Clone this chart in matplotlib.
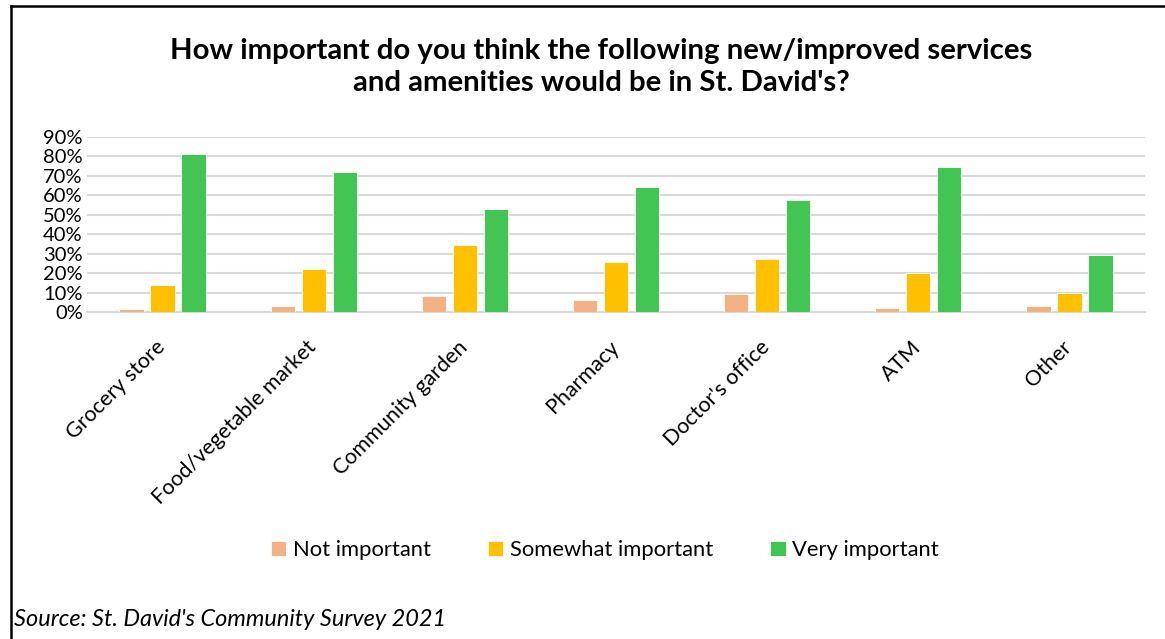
import numpy as np
import matplotlib.pyplot as plt
from matplotlib.ticker import PercentFormatter

plt.rcParams['font.family'] = ['Lato', 'DejaVu Sans']

categories = ['Grocery store', 'Food/vegetable market', 'Community garden',
              'Pharmacy', "Doctor's office", 'ATM', 'Other']
not_important = [1.7, 3.3, 8.1, 6.0, 9.1, 2.2, 3.3]
somewhat_important = [13.9, 21.9, 34.3, 25.6, 27.2, 20.1, 10.0]
very_important = [81.4, 71.8, 52.8, 64.4, 57.7, 74.7, 29.1]
series_names = ['Not important', 'Somewhat important', 'Very important']
colors = ['#F4B183', '#FFC000', '#43C553']

fig = plt.figure(figsize=(11.65, 6.39), dpi=100)
ax = fig.add_axes([87/1165, 1 - 312/639, (1145-87)/1165, (312-137)/639])

x = np.arange(len(categories))
w = 0.16
pitch = 0.205
for i, (vals, name, c) in enumerate(zip([not_important, somewhat_important, very_important],
                                         series_names, colors)):
    ax.bar(x + (i - 1) * pitch, vals, width=w, color=c, label=name,
           edgecolor='white', linewidth=0.6, zorder=3)

ax.set_xlim(-0.5, len(categories) - 0.5)
ax.set_ylim(0, 90)
ax.set_yticks(np.arange(0, 91, 10))
ax.yaxis.set_major_formatter(PercentFormatter(decimals=0))
ax.grid(axis='y', color='#D9D9D9', linewidth=1.5, zorder=0)
for s in ['top', 'right', 'left']:
    ax.spines[s].set_visible(False)
ax.spines['bottom'].set_color('#D9D9D9')
ax.spines['bottom'].set_linewidth(1.5)
ax.tick_params(axis='y', length=0, labelsize=14.5, colors='black', pad=3)
ax.tick_params(axis='x', length=0, colors='black', pad=18)
ax.set_xticks(x - 0.05)
ax.set_xticklabels(categories, rotation=45, ha='right', rotation_mode='anchor',
                   fontsize=15.5)

fig.text(0.516, 1 - 67/639, "How important do you think the following new/improved services\nand amenities would be in St. David's?",
         ha='center', va='center', fontsize=21.2, fontweight='bold', linespacing=1.3)

ax.legend(loc='center', bbox_to_anchor=(605/1165, 1 - 550/639),
          bbox_transform=fig.transFigure, ncol=3, frameon=False, fontsize=15.8,
          handlelength=0.7, handleheight=0.7, handletextpad=0.3, columnspacing=2.6)

fig.text(14/1165, 1 - 620/639, "Source: St. David's Community Survey 2021",
         ha='left', va='center', fontsize=16.9, style='italic')

# frame round the chart (clipped at right and bottom)
fig.add_artist(plt.Line2D([11/1165, 11/1165], [0, 1 - 6/639], color='black', lw=1.8,
                          transform=fig.transFigure))
fig.add_artist(plt.Line2D([11/1165, 1], [1 - 6/639, 1 - 6/639], color='black', lw=1.8,
                          transform=fig.transFigure))

fig.savefig('out.png', dpi=100)
